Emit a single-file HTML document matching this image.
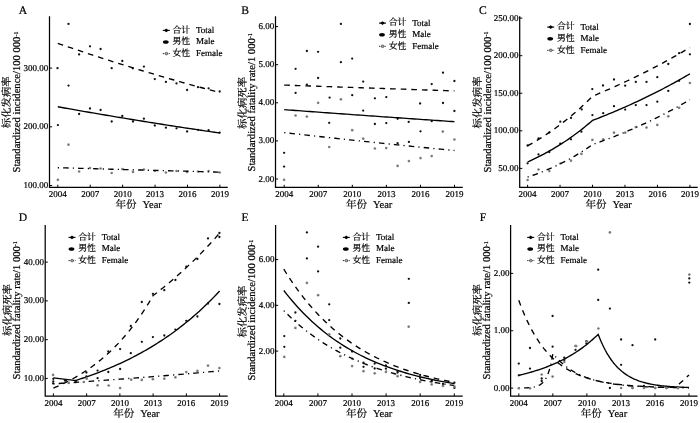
<!DOCTYPE html>
<html><head><meta charset="utf-8"><style>
html,body{margin:0;padding:0;background:#fff;}
svg{display:block;will-change:transform;}
text{text-rendering:geometricPrecision;stroke:#000;stroke-width:0.2px;}
</style></head><body>
<svg width="700" height="423" viewBox="0 0 700 423" font-family='"Liberation Serif", "Noto Serif CJK SC", serif'>
<rect width="700" height="423" fill="#fff"/>
<path d="M49.5,16.3 L49.5,187.3 L227.8,187.3" fill="none" stroke="#000" stroke-width="1.25"/>
<line x1="57.80" y1="187.3" x2="57.80" y2="184.70" stroke="#000" stroke-width="1"/>
<text x="57.80" y="197.30" font-size="9" text-anchor="middle">2004</text>
<line x1="90.22" y1="187.3" x2="90.22" y2="184.70" stroke="#000" stroke-width="1"/>
<text x="90.22" y="197.30" font-size="9" text-anchor="middle">2007</text>
<line x1="122.64" y1="187.3" x2="122.64" y2="184.70" stroke="#000" stroke-width="1"/>
<text x="122.64" y="197.30" font-size="9" text-anchor="middle">2010</text>
<line x1="155.06" y1="187.3" x2="155.06" y2="184.70" stroke="#000" stroke-width="1"/>
<text x="155.06" y="197.30" font-size="9" text-anchor="middle">2013</text>
<line x1="187.48" y1="187.3" x2="187.48" y2="184.70" stroke="#000" stroke-width="1"/>
<text x="187.48" y="197.30" font-size="9" text-anchor="middle">2016</text>
<line x1="219.90" y1="187.3" x2="219.90" y2="184.70" stroke="#000" stroke-width="1"/>
<text x="219.90" y="197.30" font-size="9" text-anchor="middle">2019</text>
<line x1="49.5" y1="68.10" x2="52.10" y2="68.10" stroke="#000" stroke-width="1"/>
<text x="48.30" y="70.60" font-size="9" text-anchor="end">300.00</text>
<line x1="49.5" y1="126.80" x2="52.10" y2="126.80" stroke="#000" stroke-width="1"/>
<text x="48.30" y="129.30" font-size="9" text-anchor="end">200.00</text>
<line x1="49.5" y1="185.50" x2="52.10" y2="185.50" stroke="#000" stroke-width="1"/>
<text x="48.30" y="188.00" font-size="9" text-anchor="end">100.00</text>
<text x="18.8" y="13.8" font-size="11.6">A</text>
<text x="138.65" y="207.90" font-size="10.5" text-anchor="middle">年份<tspan dx="6">Year</tspan></text>
<text transform="translate(20.40,172.50) rotate(-90)" font-size="10.6">Standardized incidence/100 000<tspan font-size="6" dy="-2.9">-1</tspan></text>
<text transform="translate(10.10,128.20) rotate(-90)" font-size="10.4">标化发病率</text>
<line x1="162.80" y1="30.40" x2="169.80" y2="30.40" stroke="#000" stroke-width="1.1"/>
<path d="M163.90,30.40 L166.30,28.50 L168.70,30.40 L166.30,32.30 Z" fill="#000"/>
<text x="172.50" y="32.70" font-size="8.9">合计</text>
<text x="196.00" y="32.80" font-size="9">Total</text>
<ellipse cx="165.80" cy="42.00" rx="2.9" ry="1.8" fill="#000"/>
<text x="172.50" y="44.30" font-size="8.9">男性</text>
<text x="196.00" y="44.40" font-size="9">Male</text>
<line x1="162.80" y1="53.60" x2="169.80" y2="53.60" stroke="#222" stroke-width="1" stroke-dasharray="1.3 0.8"/>
<circle cx="166.40" cy="53.60" r="1.35" fill="#aaa" stroke="#333" stroke-width="0.6"/>
<text x="172.50" y="55.90" font-size="8.9">女性</text>
<text x="196.00" y="56.00" font-size="9">Female</text>
<path d="M275.5,16.3 L275.5,187.4 L462.8,187.4" fill="none" stroke="#000" stroke-width="1.25"/>
<line x1="284.20" y1="187.4" x2="284.20" y2="184.80" stroke="#000" stroke-width="1"/>
<text x="284.20" y="197.40" font-size="9" text-anchor="middle">2004</text>
<line x1="318.26" y1="187.4" x2="318.26" y2="184.80" stroke="#000" stroke-width="1"/>
<text x="318.26" y="197.40" font-size="9" text-anchor="middle">2007</text>
<line x1="352.32" y1="187.4" x2="352.32" y2="184.80" stroke="#000" stroke-width="1"/>
<text x="352.32" y="197.40" font-size="9" text-anchor="middle">2010</text>
<line x1="386.38" y1="187.4" x2="386.38" y2="184.80" stroke="#000" stroke-width="1"/>
<text x="386.38" y="197.40" font-size="9" text-anchor="middle">2013</text>
<line x1="420.44" y1="187.4" x2="420.44" y2="184.80" stroke="#000" stroke-width="1"/>
<text x="420.44" y="197.40" font-size="9" text-anchor="middle">2016</text>
<line x1="454.50" y1="187.4" x2="454.50" y2="184.80" stroke="#000" stroke-width="1"/>
<text x="454.50" y="197.40" font-size="9" text-anchor="middle">2019</text>
<line x1="275.5" y1="26.60" x2="278.10" y2="26.60" stroke="#000" stroke-width="1"/>
<text x="274.30" y="29.10" font-size="9" text-anchor="end">6.00</text>
<line x1="275.5" y1="64.70" x2="278.10" y2="64.70" stroke="#000" stroke-width="1"/>
<text x="274.30" y="67.20" font-size="9" text-anchor="end">5.00</text>
<line x1="275.5" y1="102.80" x2="278.10" y2="102.80" stroke="#000" stroke-width="1"/>
<text x="274.30" y="105.30" font-size="9" text-anchor="end">4.00</text>
<line x1="275.5" y1="140.90" x2="278.10" y2="140.90" stroke="#000" stroke-width="1"/>
<text x="274.30" y="143.40" font-size="9" text-anchor="end">3.00</text>
<line x1="275.5" y1="179.00" x2="278.10" y2="179.00" stroke="#000" stroke-width="1"/>
<text x="274.30" y="181.50" font-size="9" text-anchor="end">2.00</text>
<text x="241.2" y="13.9" font-size="11.6">B</text>
<text x="369.15" y="208.00" font-size="10.5" text-anchor="middle">年份<tspan dx="6">Year</tspan></text>
<text transform="translate(255.00,171.50) rotate(-90)" font-size="10.6">Standardized fatality rate/1 000<tspan font-size="6" dy="-2.9">-1</tspan></text>
<text transform="translate(245.70,128.90) rotate(-90)" font-size="10.4">标化病死率</text>
<line x1="379.00" y1="23.10" x2="386.00" y2="23.10" stroke="#000" stroke-width="1.1"/>
<path d="M380.10,23.10 L382.50,21.20 L384.90,23.10 L382.50,25.00 Z" fill="#000"/>
<text x="388.70" y="25.40" font-size="8.9">合计</text>
<text x="412.20" y="25.50" font-size="9">Total</text>
<ellipse cx="382.00" cy="34.70" rx="2.9" ry="1.8" fill="#000"/>
<text x="388.70" y="37.00" font-size="8.9">男性</text>
<text x="412.20" y="37.10" font-size="9">Male</text>
<line x1="379.00" y1="46.30" x2="386.00" y2="46.30" stroke="#222" stroke-width="1" stroke-dasharray="1.3 0.8"/>
<circle cx="382.60" cy="46.30" r="1.35" fill="#aaa" stroke="#333" stroke-width="0.6"/>
<text x="388.70" y="48.60" font-size="8.9">女性</text>
<text x="412.20" y="48.70" font-size="9">Female</text>
<path d="M519.7,16.3 L519.7,187.4 L697.7,187.4" fill="none" stroke="#000" stroke-width="1.25"/>
<line x1="527.60" y1="187.4" x2="527.60" y2="184.80" stroke="#000" stroke-width="1"/>
<text x="527.60" y="197.40" font-size="9" text-anchor="middle">2004</text>
<line x1="560.06" y1="187.4" x2="560.06" y2="184.80" stroke="#000" stroke-width="1"/>
<text x="560.06" y="197.40" font-size="9" text-anchor="middle">2007</text>
<line x1="592.52" y1="187.4" x2="592.52" y2="184.80" stroke="#000" stroke-width="1"/>
<text x="592.52" y="197.40" font-size="9" text-anchor="middle">2010</text>
<line x1="624.98" y1="187.4" x2="624.98" y2="184.80" stroke="#000" stroke-width="1"/>
<text x="624.98" y="197.40" font-size="9" text-anchor="middle">2013</text>
<line x1="657.44" y1="187.4" x2="657.44" y2="184.80" stroke="#000" stroke-width="1"/>
<text x="657.44" y="197.40" font-size="9" text-anchor="middle">2016</text>
<line x1="689.90" y1="187.4" x2="689.90" y2="184.80" stroke="#000" stroke-width="1"/>
<text x="689.90" y="197.40" font-size="9" text-anchor="middle">2019</text>
<line x1="519.7" y1="18.10" x2="522.30" y2="18.10" stroke="#000" stroke-width="1"/>
<text x="518.50" y="20.60" font-size="9" text-anchor="end">250.00</text>
<line x1="519.7" y1="55.68" x2="522.30" y2="55.68" stroke="#000" stroke-width="1"/>
<text x="518.50" y="58.18" font-size="9" text-anchor="end">200.00</text>
<line x1="519.7" y1="93.25" x2="522.30" y2="93.25" stroke="#000" stroke-width="1"/>
<text x="518.50" y="95.75" font-size="9" text-anchor="end">150.00</text>
<line x1="519.7" y1="130.82" x2="522.30" y2="130.82" stroke="#000" stroke-width="1"/>
<text x="518.50" y="133.32" font-size="9" text-anchor="end">100.00</text>
<line x1="519.7" y1="168.40" x2="522.30" y2="168.40" stroke="#000" stroke-width="1"/>
<text x="518.50" y="170.90" font-size="9" text-anchor="end">50.00</text>
<text x="479.0" y="13.9" font-size="11.6">C</text>
<text x="608.70" y="208.00" font-size="10.5" text-anchor="middle">年份<tspan dx="6">Year</tspan></text>
<text transform="translate(490.60,172.50) rotate(-90)" font-size="10.6">Standardized incidence/100 000<tspan font-size="6" dy="-2.9">-1</tspan></text>
<text transform="translate(480.80,128.40) rotate(-90)" font-size="10.4">标化发病率</text>
<line x1="547.20" y1="27.10" x2="554.20" y2="27.10" stroke="#000" stroke-width="1.1"/>
<path d="M548.30,27.10 L550.70,25.20 L553.10,27.10 L550.70,29.00 Z" fill="#000"/>
<text x="556.90" y="29.40" font-size="8.9">合计</text>
<text x="580.40" y="29.50" font-size="9">Total</text>
<ellipse cx="550.20" cy="38.70" rx="2.9" ry="1.8" fill="#000"/>
<text x="556.90" y="41.00" font-size="8.9">男性</text>
<text x="580.40" y="41.10" font-size="9">Male</text>
<line x1="547.20" y1="50.30" x2="554.20" y2="50.30" stroke="#222" stroke-width="1" stroke-dasharray="1.3 0.8"/>
<circle cx="550.80" cy="50.30" r="1.35" fill="#aaa" stroke="#333" stroke-width="0.6"/>
<text x="556.90" y="52.60" font-size="8.9">女性</text>
<text x="580.40" y="52.70" font-size="9">Female</text>
<path d="M45.2,224.9 L45.2,396.0 L227.7,396.0" fill="none" stroke="#000" stroke-width="1.25"/>
<line x1="53.40" y1="396.0" x2="53.40" y2="393.40" stroke="#000" stroke-width="1"/>
<text x="53.40" y="406.00" font-size="9" text-anchor="middle">2004</text>
<line x1="86.64" y1="396.0" x2="86.64" y2="393.40" stroke="#000" stroke-width="1"/>
<text x="86.64" y="406.00" font-size="9" text-anchor="middle">2007</text>
<line x1="119.88" y1="396.0" x2="119.88" y2="393.40" stroke="#000" stroke-width="1"/>
<text x="119.88" y="406.00" font-size="9" text-anchor="middle">2010</text>
<line x1="153.12" y1="396.0" x2="153.12" y2="393.40" stroke="#000" stroke-width="1"/>
<text x="153.12" y="406.00" font-size="9" text-anchor="middle">2013</text>
<line x1="186.36" y1="396.0" x2="186.36" y2="393.40" stroke="#000" stroke-width="1"/>
<text x="186.36" y="406.00" font-size="9" text-anchor="middle">2016</text>
<line x1="219.60" y1="396.0" x2="219.60" y2="393.40" stroke="#000" stroke-width="1"/>
<text x="219.60" y="406.00" font-size="9" text-anchor="middle">2019</text>
<line x1="45.2" y1="262.10" x2="47.80" y2="262.10" stroke="#000" stroke-width="1"/>
<text x="44.00" y="264.60" font-size="9" text-anchor="end">40.00</text>
<line x1="45.2" y1="300.87" x2="47.80" y2="300.87" stroke="#000" stroke-width="1"/>
<text x="44.00" y="303.37" font-size="9" text-anchor="end">30.00</text>
<line x1="45.2" y1="339.63" x2="47.80" y2="339.63" stroke="#000" stroke-width="1"/>
<text x="44.00" y="342.13" font-size="9" text-anchor="end">20.00</text>
<line x1="45.2" y1="378.40" x2="47.80" y2="378.40" stroke="#000" stroke-width="1"/>
<text x="44.00" y="380.90" font-size="9" text-anchor="end">10.00</text>
<text x="18.8" y="220.6" font-size="11.6">D</text>
<text x="136.45" y="416.60" font-size="10.5" text-anchor="middle">年份<tspan dx="6">Year</tspan></text>
<text transform="translate(20.00,379.40) rotate(-90)" font-size="10.6">Standardized fatality rate/1 000<tspan font-size="6" dy="-2.9">-1</tspan></text>
<text transform="translate(11.10,336.00) rotate(-90)" font-size="10.4">标化病死率</text>
<line x1="68.50" y1="237.40" x2="75.50" y2="237.40" stroke="#000" stroke-width="1.1"/>
<path d="M69.60,237.40 L72.00,235.50 L74.40,237.40 L72.00,239.30 Z" fill="#000"/>
<text x="78.20" y="239.70" font-size="8.9">合计</text>
<text x="101.70" y="239.80" font-size="9">Total</text>
<ellipse cx="71.50" cy="249.00" rx="2.9" ry="1.8" fill="#000"/>
<text x="78.20" y="251.30" font-size="8.9">男性</text>
<text x="101.70" y="251.40" font-size="9">Male</text>
<line x1="68.50" y1="260.60" x2="75.50" y2="260.60" stroke="#222" stroke-width="1" stroke-dasharray="1.3 0.8"/>
<circle cx="72.10" cy="260.60" r="1.35" fill="#aaa" stroke="#333" stroke-width="0.6"/>
<text x="78.20" y="262.90" font-size="8.9">女性</text>
<text x="101.70" y="263.00" font-size="9">Female</text>
<path d="M275.6,224.9 L275.6,396.0 L462.7,396.0" fill="none" stroke="#000" stroke-width="1.25"/>
<line x1="283.80" y1="396.0" x2="283.80" y2="393.40" stroke="#000" stroke-width="1"/>
<text x="283.80" y="406.00" font-size="9" text-anchor="middle">2004</text>
<line x1="317.90" y1="396.0" x2="317.90" y2="393.40" stroke="#000" stroke-width="1"/>
<text x="317.90" y="406.00" font-size="9" text-anchor="middle">2007</text>
<line x1="352.00" y1="396.0" x2="352.00" y2="393.40" stroke="#000" stroke-width="1"/>
<text x="352.00" y="406.00" font-size="9" text-anchor="middle">2010</text>
<line x1="386.10" y1="396.0" x2="386.10" y2="393.40" stroke="#000" stroke-width="1"/>
<text x="386.10" y="406.00" font-size="9" text-anchor="middle">2013</text>
<line x1="420.20" y1="396.0" x2="420.20" y2="393.40" stroke="#000" stroke-width="1"/>
<text x="420.20" y="406.00" font-size="9" text-anchor="middle">2016</text>
<line x1="454.30" y1="396.0" x2="454.30" y2="393.40" stroke="#000" stroke-width="1"/>
<text x="454.30" y="406.00" font-size="9" text-anchor="middle">2019</text>
<line x1="275.6" y1="259.60" x2="278.20" y2="259.60" stroke="#000" stroke-width="1"/>
<text x="274.40" y="262.10" font-size="9" text-anchor="end">6.00</text>
<line x1="275.6" y1="305.35" x2="278.20" y2="305.35" stroke="#000" stroke-width="1"/>
<text x="274.40" y="307.85" font-size="9" text-anchor="end">4.00</text>
<line x1="275.6" y1="351.10" x2="278.20" y2="351.10" stroke="#000" stroke-width="1"/>
<text x="274.40" y="353.60" font-size="9" text-anchor="end">2.00</text>
<text x="241.6" y="220.6" font-size="11.6">E</text>
<text x="369.15" y="416.60" font-size="10.5" text-anchor="middle">年份<tspan dx="6">Year</tspan></text>
<text transform="translate(255.40,380.60) rotate(-90)" font-size="10.6">Standardized incidence/100 000<tspan font-size="6" dy="-2.9">-1</tspan></text>
<text transform="translate(246.00,337.50) rotate(-90)" font-size="10.4">标化发病率</text>
<line x1="342.80" y1="237.40" x2="349.80" y2="237.40" stroke="#000" stroke-width="1.1"/>
<path d="M343.90,237.40 L346.30,235.50 L348.70,237.40 L346.30,239.30 Z" fill="#000"/>
<text x="352.50" y="239.70" font-size="8.9">合计</text>
<text x="376.00" y="239.80" font-size="9">Total</text>
<ellipse cx="345.80" cy="249.00" rx="2.9" ry="1.8" fill="#000"/>
<text x="352.50" y="251.30" font-size="8.9">男性</text>
<text x="376.00" y="251.40" font-size="9">Male</text>
<line x1="342.80" y1="260.60" x2="349.80" y2="260.60" stroke="#222" stroke-width="1" stroke-dasharray="1.3 0.8"/>
<circle cx="346.40" cy="260.60" r="1.35" fill="#aaa" stroke="#333" stroke-width="0.6"/>
<text x="352.50" y="262.90" font-size="8.9">女性</text>
<text x="376.00" y="263.00" font-size="9">Female</text>
<path d="M510.6,224.9 L510.6,396.0 L697.5,396.0" fill="none" stroke="#000" stroke-width="1.25"/>
<line x1="518.80" y1="396.0" x2="518.80" y2="393.40" stroke="#000" stroke-width="1"/>
<text x="518.80" y="406.00" font-size="9" text-anchor="middle">2004</text>
<line x1="552.84" y1="396.0" x2="552.84" y2="393.40" stroke="#000" stroke-width="1"/>
<text x="552.84" y="406.00" font-size="9" text-anchor="middle">2007</text>
<line x1="586.88" y1="396.0" x2="586.88" y2="393.40" stroke="#000" stroke-width="1"/>
<text x="586.88" y="406.00" font-size="9" text-anchor="middle">2010</text>
<line x1="620.92" y1="396.0" x2="620.92" y2="393.40" stroke="#000" stroke-width="1"/>
<text x="620.92" y="406.00" font-size="9" text-anchor="middle">2013</text>
<line x1="654.96" y1="396.0" x2="654.96" y2="393.40" stroke="#000" stroke-width="1"/>
<text x="654.96" y="406.00" font-size="9" text-anchor="middle">2016</text>
<line x1="689.00" y1="396.0" x2="689.00" y2="393.40" stroke="#000" stroke-width="1"/>
<text x="689.00" y="406.00" font-size="9" text-anchor="middle">2019</text>
<line x1="510.6" y1="273.40" x2="513.20" y2="273.40" stroke="#000" stroke-width="1"/>
<text x="509.40" y="275.90" font-size="9" text-anchor="end">2.00</text>
<line x1="510.6" y1="330.75" x2="513.20" y2="330.75" stroke="#000" stroke-width="1"/>
<text x="509.40" y="333.25" font-size="9" text-anchor="end">1.00</text>
<line x1="510.6" y1="388.10" x2="513.20" y2="388.10" stroke="#000" stroke-width="1"/>
<text x="509.40" y="390.60" font-size="9" text-anchor="end">0.00</text>
<text x="479.8" y="220.6" font-size="11.6">F</text>
<text x="604.05" y="416.60" font-size="10.5" text-anchor="middle">年份<tspan dx="6">Year</tspan></text>
<text transform="translate(490.40,379.40) rotate(-90)" font-size="10.6">Standardized fatality rate/1 000<tspan font-size="6" dy="-2.9">-1</tspan></text>
<text transform="translate(480.60,336.00) rotate(-90)" font-size="10.4">标化病死率</text>
<line x1="527.20" y1="237.40" x2="534.20" y2="237.40" stroke="#000" stroke-width="1.1"/>
<path d="M528.30,237.40 L530.70,235.50 L533.10,237.40 L530.70,239.30 Z" fill="#000"/>
<text x="536.90" y="239.70" font-size="8.9">合计</text>
<text x="560.40" y="239.80" font-size="9">Total</text>
<ellipse cx="530.20" cy="249.00" rx="2.9" ry="1.8" fill="#000"/>
<text x="536.90" y="251.30" font-size="8.9">男性</text>
<text x="560.40" y="251.40" font-size="9">Male</text>
<line x1="527.20" y1="260.60" x2="534.20" y2="260.60" stroke="#222" stroke-width="1" stroke-dasharray="1.3 0.8"/>
<circle cx="530.80" cy="260.60" r="1.35" fill="#aaa" stroke="#333" stroke-width="0.6"/>
<text x="536.90" y="262.90" font-size="8.9">女性</text>
<text x="560.40" y="263.00" font-size="9">Female</text>
<circle cx="57.5" cy="68.2" r="1.15" fill="#111"/>
<circle cx="68.5" cy="23.9" r="1.15" fill="#111"/>
<circle cx="79.1" cy="54.4" r="1.15" fill="#111"/>
<circle cx="90.0" cy="46.3" r="1.15" fill="#111"/>
<circle cx="100.6" cy="49.0" r="1.15" fill="#111"/>
<circle cx="111.7" cy="68.2" r="1.15" fill="#111"/>
<circle cx="122.3" cy="61.0" r="1.15" fill="#111"/>
<circle cx="132.8" cy="68.3" r="1.15" fill="#111"/>
<circle cx="143.9" cy="66.6" r="1.15" fill="#111"/>
<circle cx="154.8" cy="79.1" r="1.15" fill="#111"/>
<circle cx="165.9" cy="81.9" r="1.15" fill="#111"/>
<circle cx="176.5" cy="83.4" r="1.15" fill="#111"/>
<circle cx="187.1" cy="90.0" r="1.15" fill="#111"/>
<circle cx="198.0" cy="87.2" r="1.15" fill="#111"/>
<circle cx="208.6" cy="88.3" r="1.15" fill="#111"/>
<circle cx="219.7" cy="91.5" r="1.15" fill="#111"/>
<circle cx="57.9" cy="125.1" r="1.15" fill="#111"/>
<circle cx="68.5" cy="85.6" r="1.15" fill="#111"/>
<circle cx="79.1" cy="114.0" r="1.15" fill="#111"/>
<circle cx="90.0" cy="108.5" r="1.15" fill="#111"/>
<circle cx="100.6" cy="110.0" r="1.15" fill="#111"/>
<circle cx="111.7" cy="121.5" r="1.15" fill="#111"/>
<circle cx="122.3" cy="116.0" r="1.15" fill="#111"/>
<circle cx="133.0" cy="121.5" r="1.15" fill="#111"/>
<circle cx="143.9" cy="118.7" r="1.15" fill="#111"/>
<circle cx="154.8" cy="125.5" r="1.15" fill="#111"/>
<circle cx="165.9" cy="127.7" r="1.15" fill="#111"/>
<circle cx="176.5" cy="128.3" r="1.15" fill="#111"/>
<circle cx="187.1" cy="131.5" r="1.15" fill="#111"/>
<circle cx="198.0" cy="129.8" r="1.15" fill="#111"/>
<circle cx="208.6" cy="130.2" r="1.15" fill="#111"/>
<circle cx="219.7" cy="132.6" r="1.15" fill="#111"/>
<circle cx="57.9" cy="179.8" r="1.35" fill="#8a8a8a"/><circle cx="57.9" cy="179.8" r="0.5" fill="#555"/>
<circle cx="68.5" cy="144.7" r="1.35" fill="#8a8a8a"/><circle cx="68.5" cy="144.7" r="0.5" fill="#555"/>
<circle cx="79.1" cy="171.5" r="1.35" fill="#8a8a8a"/><circle cx="79.1" cy="171.5" r="0.5" fill="#555"/>
<circle cx="90.0" cy="168.0" r="1.35" fill="#8a8a8a"/><circle cx="90.0" cy="168.0" r="0.5" fill="#555"/>
<circle cx="100.6" cy="168.5" r="1.35" fill="#8a8a8a"/><circle cx="100.6" cy="168.5" r="0.5" fill="#555"/>
<circle cx="111.7" cy="173.0" r="1.35" fill="#8a8a8a"/><circle cx="111.7" cy="173.0" r="0.5" fill="#555"/>
<circle cx="122.3" cy="169.1" r="1.35" fill="#8a8a8a"/><circle cx="122.3" cy="169.1" r="0.5" fill="#555"/>
<circle cx="133.0" cy="171.9" r="1.35" fill="#8a8a8a"/><circle cx="133.0" cy="171.9" r="0.5" fill="#555"/>
<circle cx="143.9" cy="169.5" r="1.35" fill="#8a8a8a"/><circle cx="143.9" cy="169.5" r="0.5" fill="#555"/>
<circle cx="154.8" cy="171.0" r="1.35" fill="#8a8a8a"/><circle cx="154.8" cy="171.0" r="0.5" fill="#555"/>
<circle cx="165.9" cy="172.5" r="1.35" fill="#8a8a8a"/><circle cx="165.9" cy="172.5" r="0.5" fill="#555"/>
<circle cx="176.5" cy="171.0" r="1.35" fill="#8a8a8a"/><circle cx="176.5" cy="171.0" r="0.5" fill="#555"/>
<circle cx="187.1" cy="172.0" r="1.35" fill="#8a8a8a"/><circle cx="187.1" cy="172.0" r="0.5" fill="#555"/>
<circle cx="198.0" cy="171.5" r="1.35" fill="#8a8a8a"/><circle cx="198.0" cy="171.5" r="0.5" fill="#555"/>
<circle cx="208.6" cy="171.0" r="1.35" fill="#8a8a8a"/><circle cx="208.6" cy="171.0" r="0.5" fill="#555"/>
<circle cx="219.7" cy="172.5" r="1.35" fill="#8a8a8a"/><circle cx="219.7" cy="172.5" r="0.5" fill="#555"/>
<path d="M57.80,43.33 L60.50,44.27 L63.20,45.20 L65.91,46.13 L68.61,47.06 L71.31,47.98 L74.01,48.90 L76.71,49.81 L79.41,50.72 L82.12,51.63 L84.82,52.53 L87.52,53.42 L90.22,54.32 L92.92,55.20 L95.62,56.09 L98.33,56.97 L101.03,57.84 L103.73,58.71 L106.43,59.58 L109.13,60.45 L111.84,61.30 L114.54,62.16 L117.24,63.01 L119.94,63.86 L122.64,64.70 L125.34,65.54 L128.05,66.38 L130.75,67.21 L133.45,68.04 L136.15,68.86 L138.85,69.68 L141.55,70.50 L144.26,71.31 L146.96,72.12 L149.66,72.92 L152.36,73.72 L155.06,74.52 L157.76,75.31 L160.47,76.10 L163.17,76.89 L165.87,77.67 L168.57,78.45 L171.27,79.23 L173.98,80.00 L176.68,80.77 L179.38,81.53 L182.08,82.29 L184.78,83.05 L187.48,83.80 L190.19,84.55 L192.89,85.30 L195.59,86.04 L198.29,86.78 L200.99,87.52 L203.69,88.25 L206.40,88.98 L209.10,89.70 L211.80,90.43 L214.50,91.15 L217.20,91.86 L219.91,92.57" fill="none" stroke="#000" stroke-width="1.35" stroke-dasharray="5.6 5.0"/>
<path d="M57.80,106.78 L60.50,107.27 L63.20,107.75 L65.91,108.23 L68.61,108.71 L71.31,109.19 L74.01,109.67 L76.71,110.14 L79.41,110.61 L82.12,111.08 L84.82,111.55 L87.52,112.02 L90.22,112.49 L92.92,112.95 L95.62,113.41 L98.33,113.88 L101.03,114.33 L103.73,114.79 L106.43,115.25 L109.13,115.70 L111.84,116.16 L114.54,116.61 L117.24,117.06 L119.94,117.51 L122.64,117.95 L125.34,118.40 L128.05,118.84 L130.75,119.28 L133.45,119.72 L136.15,120.16 L138.85,120.60 L141.55,121.04 L144.26,121.47 L146.96,121.90 L149.66,122.34 L152.36,122.76 L155.06,123.19 L157.76,123.62 L160.47,124.04 L163.17,124.47 L165.87,124.89 L168.57,125.31 L171.27,125.73 L173.98,126.15 L176.68,126.56 L179.38,126.98 L182.08,127.39 L184.78,127.80 L187.48,128.22 L190.19,128.62 L192.89,129.03 L195.59,129.44 L198.29,129.84 L200.99,130.25 L203.69,130.65 L206.40,131.05 L209.10,131.45 L211.80,131.84 L214.50,132.24 L217.20,132.64 L219.91,133.03" fill="none" stroke="#000" stroke-width="1.35"/>
<path d="M57.80,167.71 L60.50,167.79 L63.20,167.87 L65.91,167.94 L68.61,168.02 L71.31,168.09 L74.01,168.17 L76.71,168.24 L79.41,168.32 L82.12,168.39 L84.82,168.47 L87.52,168.54 L90.22,168.62 L92.92,168.69 L95.62,168.77 L98.33,168.84 L101.03,168.92 L103.73,168.99 L106.43,169.07 L109.13,169.14 L111.84,169.22 L114.54,169.29 L117.24,169.37 L119.94,169.44 L122.64,169.51 L125.34,169.59 L128.05,169.66 L130.75,169.74 L133.45,169.81 L136.15,169.88 L138.85,169.96 L141.55,170.03 L144.26,170.10 L146.96,170.18 L149.66,170.25 L152.36,170.33 L155.06,170.40 L157.76,170.47 L160.47,170.54 L163.17,170.62 L165.87,170.69 L168.57,170.76 L171.27,170.84 L173.98,170.91 L176.68,170.98 L179.38,171.05 L182.08,171.13 L184.78,171.20 L187.48,171.27 L190.19,171.34 L192.89,171.42 L195.59,171.49 L198.29,171.56 L200.99,171.63 L203.69,171.71 L206.40,171.78 L209.10,171.85 L211.80,171.92 L214.50,171.99 L217.20,172.06 L219.91,172.14" fill="none" stroke="#000" stroke-width="1.35" stroke-dasharray="5.5 4.2 1.2 4.1" stroke-dashoffset="9.7"/>
<circle cx="284.1" cy="152.8" r="1.15" fill="#111"/>
<circle cx="295.6" cy="68.8" r="1.15" fill="#111"/>
<circle cx="306.9" cy="51.0" r="1.15" fill="#111"/>
<circle cx="318.1" cy="51.8" r="1.15" fill="#111"/>
<circle cx="329.6" cy="97.6" r="1.15" fill="#111"/>
<circle cx="340.9" cy="23.9" r="1.15" fill="#111"/>
<circle cx="352.2" cy="58.6" r="1.15" fill="#111"/>
<circle cx="363.2" cy="81.6" r="1.15" fill="#111"/>
<circle cx="374.9" cy="98.3" r="1.15" fill="#111"/>
<circle cx="386.3" cy="97.1" r="1.15" fill="#111"/>
<circle cx="397.6" cy="118.8" r="1.15" fill="#111"/>
<circle cx="408.7" cy="121.9" r="1.15" fill="#111"/>
<circle cx="420.1" cy="103.5" r="1.15" fill="#111"/>
<circle cx="431.7" cy="84.1" r="1.15" fill="#111"/>
<circle cx="443.0" cy="72.7" r="1.15" fill="#111"/>
<circle cx="454.4" cy="81.0" r="1.15" fill="#111"/>
<circle cx="284.1" cy="166.6" r="1.15" fill="#111"/>
<circle cx="295.6" cy="92.9" r="1.15" fill="#111"/>
<circle cx="306.9" cy="84.6" r="1.15" fill="#111"/>
<circle cx="318.1" cy="78.0" r="1.15" fill="#111"/>
<circle cx="329.2" cy="122.8" r="1.15" fill="#111"/>
<circle cx="340.9" cy="62.2" r="1.15" fill="#111"/>
<circle cx="352.2" cy="95.2" r="1.15" fill="#111"/>
<circle cx="363.2" cy="110.6" r="1.15" fill="#111"/>
<circle cx="374.9" cy="124.0" r="1.15" fill="#111"/>
<circle cx="386.3" cy="123.1" r="1.15" fill="#111"/>
<circle cx="397.6" cy="143.2" r="1.15" fill="#111"/>
<circle cx="408.9" cy="141.9" r="1.15" fill="#111"/>
<circle cx="420.5" cy="131.3" r="1.15" fill="#111"/>
<circle cx="431.7" cy="121.2" r="1.15" fill="#111"/>
<circle cx="443.0" cy="103.0" r="1.15" fill="#111"/>
<circle cx="454.4" cy="111.0" r="1.15" fill="#111"/>
<circle cx="284.1" cy="179.8" r="1.35" fill="#8a8a8a"/><circle cx="284.1" cy="179.8" r="0.5" fill="#555"/>
<circle cx="295.6" cy="115.5" r="1.35" fill="#8a8a8a"/><circle cx="295.6" cy="115.5" r="0.5" fill="#555"/>
<circle cx="306.9" cy="116.6" r="1.35" fill="#8a8a8a"/><circle cx="306.9" cy="116.6" r="0.5" fill="#555"/>
<circle cx="318.1" cy="102.8" r="1.35" fill="#8a8a8a"/><circle cx="318.1" cy="102.8" r="0.5" fill="#555"/>
<circle cx="329.2" cy="147.0" r="1.35" fill="#8a8a8a"/><circle cx="329.2" cy="147.0" r="0.5" fill="#555"/>
<circle cx="340.9" cy="99.3" r="1.35" fill="#8a8a8a"/><circle cx="340.9" cy="99.3" r="0.5" fill="#555"/>
<circle cx="352.2" cy="130.2" r="1.35" fill="#8a8a8a"/><circle cx="352.2" cy="130.2" r="0.5" fill="#555"/>
<circle cx="363.2" cy="138.7" r="1.35" fill="#8a8a8a"/><circle cx="363.2" cy="138.7" r="0.5" fill="#555"/>
<circle cx="374.9" cy="148.5" r="1.35" fill="#8a8a8a"/><circle cx="374.9" cy="148.5" r="0.5" fill="#555"/>
<circle cx="386.2" cy="148.1" r="1.35" fill="#8a8a8a"/><circle cx="386.2" cy="148.1" r="0.5" fill="#555"/>
<circle cx="397.6" cy="165.9" r="1.35" fill="#8a8a8a"/><circle cx="397.6" cy="165.9" r="0.5" fill="#555"/>
<circle cx="408.9" cy="161.1" r="1.35" fill="#8a8a8a"/><circle cx="408.9" cy="161.1" r="0.5" fill="#555"/>
<circle cx="420.5" cy="158.1" r="1.35" fill="#8a8a8a"/><circle cx="420.5" cy="158.1" r="0.5" fill="#555"/>
<circle cx="431.7" cy="156.1" r="1.35" fill="#8a8a8a"/><circle cx="431.7" cy="156.1" r="0.5" fill="#555"/>
<circle cx="442.8" cy="131.6" r="1.35" fill="#8a8a8a"/><circle cx="442.8" cy="131.6" r="0.5" fill="#555"/>
<circle cx="454.4" cy="139.5" r="1.35" fill="#8a8a8a"/><circle cx="454.4" cy="139.5" r="0.5" fill="#555"/>
<path d="M284.20,85.08 L287.04,85.18 L289.88,85.28 L292.71,85.38 L295.55,85.48 L298.39,85.58 L301.23,85.68 L304.07,85.78 L306.91,85.87 L309.74,85.97 L312.58,86.07 L315.42,86.17 L318.26,86.27 L321.10,86.37 L323.94,86.47 L326.77,86.56 L329.61,86.66 L332.45,86.76 L335.29,86.86 L338.13,86.96 L340.96,87.05 L343.80,87.15 L346.64,87.25 L349.48,87.35 L352.32,87.45 L355.16,87.54 L357.99,87.64 L360.83,87.74 L363.67,87.84 L366.51,87.93 L369.35,88.03 L372.19,88.13 L375.02,88.23 L377.86,88.32 L380.70,88.42 L383.54,88.52 L386.38,88.61 L389.22,88.71 L392.05,88.81 L394.89,88.90 L397.73,89.00 L400.57,89.10 L403.41,89.19 L406.24,89.29 L409.08,89.39 L411.92,89.48 L414.76,89.58 L417.60,89.68 L420.44,89.77 L423.27,89.87 L426.11,89.97 L428.95,90.06 L431.79,90.16 L434.63,90.26 L437.47,90.35 L440.30,90.45 L443.14,90.54 L445.98,90.64 L448.82,90.73 L451.66,90.83 L454.50,90.93" fill="none" stroke="#000" stroke-width="1.35" stroke-dasharray="5.6 5.0"/>
<path d="M284.20,109.66 L287.04,109.87 L289.88,110.08 L292.71,110.28 L295.55,110.49 L298.39,110.70 L301.23,110.91 L304.07,111.12 L306.91,111.32 L309.74,111.53 L312.58,111.74 L315.42,111.94 L318.26,112.15 L321.10,112.35 L323.94,112.56 L326.77,112.76 L329.61,112.97 L332.45,113.17 L335.29,113.38 L338.13,113.58 L340.96,113.78 L343.80,113.99 L346.64,114.19 L349.48,114.39 L352.32,114.59 L355.16,114.80 L357.99,115.00 L360.83,115.20 L363.67,115.40 L366.51,115.60 L369.35,115.80 L372.19,116.00 L375.02,116.20 L377.86,116.40 L380.70,116.60 L383.54,116.80 L386.38,117.00 L389.22,117.20 L392.05,117.39 L394.89,117.59 L397.73,117.79 L400.57,117.99 L403.41,118.19 L406.24,118.38 L409.08,118.58 L411.92,118.77 L414.76,118.97 L417.60,119.17 L420.44,119.36 L423.27,119.56 L426.11,119.75 L428.95,119.95 L431.79,120.14 L434.63,120.33 L437.47,120.53 L440.30,120.72 L443.14,120.91 L445.98,121.11 L448.82,121.30 L451.66,121.49 L454.50,121.68" fill="none" stroke="#000" stroke-width="1.35"/>
<path d="M284.20,132.59 L287.04,132.92 L289.88,133.24 L292.71,133.56 L295.55,133.88 L298.39,134.20 L301.23,134.52 L304.07,134.84 L306.91,135.15 L309.74,135.47 L312.58,135.79 L315.42,136.10 L318.26,136.41 L321.10,136.73 L323.94,137.04 L326.77,137.35 L329.61,137.66 L332.45,137.97 L335.29,138.28 L338.13,138.59 L340.96,138.89 L343.80,139.20 L346.64,139.51 L349.48,139.81 L352.32,140.11 L355.16,140.42 L357.99,140.72 L360.83,141.02 L363.67,141.32 L366.51,141.62 L369.35,141.92 L372.19,142.22 L375.02,142.52 L377.86,142.81 L380.70,143.11 L383.54,143.41 L386.38,143.70 L389.22,143.99 L392.05,144.29 L394.89,144.58 L397.73,144.87 L400.57,145.16 L403.41,145.45 L406.24,145.74 L409.08,146.03 L411.92,146.32 L414.76,146.60 L417.60,146.89 L420.44,147.17 L423.27,147.46 L426.11,147.74 L428.95,148.03 L431.79,148.31 L434.63,148.59 L437.47,148.87 L440.30,149.15 L443.14,149.43 L445.98,149.71 L448.82,149.99 L451.66,150.26 L454.50,150.54" fill="none" stroke="#000" stroke-width="1.35" stroke-dasharray="5.5 4.2 1.2 4.1" stroke-dashoffset="9.7"/>
<circle cx="527.6" cy="145.5" r="1.15" fill="#111"/>
<circle cx="538.5" cy="138.5" r="1.15" fill="#111"/>
<circle cx="549.3" cy="132.5" r="1.15" fill="#111"/>
<circle cx="560.3" cy="121.7" r="1.15" fill="#111"/>
<circle cx="571.0" cy="117.9" r="1.15" fill="#111"/>
<circle cx="581.7" cy="109.4" r="1.15" fill="#111"/>
<circle cx="592.3" cy="89.1" r="1.15" fill="#111"/>
<circle cx="603.0" cy="85.5" r="1.15" fill="#111"/>
<circle cx="614.0" cy="79.5" r="1.15" fill="#111"/>
<circle cx="625.2" cy="85.7" r="1.15" fill="#111"/>
<circle cx="635.8" cy="81.9" r="1.15" fill="#111"/>
<circle cx="646.5" cy="81.9" r="1.15" fill="#111"/>
<circle cx="657.3" cy="77.2" r="1.15" fill="#111"/>
<circle cx="668.3" cy="64.0" r="1.15" fill="#111"/>
<circle cx="679.1" cy="53.2" r="1.15" fill="#111"/>
<circle cx="689.9" cy="24.0" r="1.15" fill="#111"/>
<circle cx="527.6" cy="163.3" r="1.15" fill="#111"/>
<circle cx="538.5" cy="154.4" r="1.15" fill="#111"/>
<circle cx="549.3" cy="152.0" r="1.15" fill="#111"/>
<circle cx="560.3" cy="143.6" r="1.15" fill="#111"/>
<circle cx="571.0" cy="139.3" r="1.15" fill="#111"/>
<circle cx="581.4" cy="131.7" r="1.15" fill="#111"/>
<circle cx="592.4" cy="115.1" r="1.15" fill="#111"/>
<circle cx="603.2" cy="113.2" r="1.15" fill="#111"/>
<circle cx="614.0" cy="106.2" r="1.15" fill="#111"/>
<circle cx="625.2" cy="109.6" r="1.15" fill="#111"/>
<circle cx="635.8" cy="105.1" r="1.15" fill="#111"/>
<circle cx="646.5" cy="105.1" r="1.15" fill="#111"/>
<circle cx="657.3" cy="101.7" r="1.15" fill="#111"/>
<circle cx="668.3" cy="90.9" r="1.15" fill="#111"/>
<circle cx="679.1" cy="80.8" r="1.15" fill="#111"/>
<circle cx="689.9" cy="54.3" r="1.15" fill="#111"/>
<circle cx="527.6" cy="180.0" r="1.35" fill="#8a8a8a"/><circle cx="527.6" cy="180.0" r="0.5" fill="#555"/>
<circle cx="538.5" cy="169.5" r="1.35" fill="#8a8a8a"/><circle cx="538.5" cy="169.5" r="0.5" fill="#555"/>
<circle cx="549.3" cy="171.1" r="1.35" fill="#8a8a8a"/><circle cx="549.3" cy="171.1" r="0.5" fill="#555"/>
<circle cx="560.3" cy="163.5" r="1.35" fill="#8a8a8a"/><circle cx="560.3" cy="163.5" r="0.5" fill="#555"/>
<circle cx="571.0" cy="160.7" r="1.35" fill="#8a8a8a"/><circle cx="571.0" cy="160.7" r="0.5" fill="#555"/>
<circle cx="581.4" cy="153.9" r="1.35" fill="#8a8a8a"/><circle cx="581.4" cy="153.9" r="0.5" fill="#555"/>
<circle cx="592.4" cy="139.9" r="1.35" fill="#8a8a8a"/><circle cx="592.4" cy="139.9" r="0.5" fill="#555"/>
<circle cx="603.2" cy="139.3" r="1.35" fill="#8a8a8a"/><circle cx="603.2" cy="139.3" r="0.5" fill="#555"/>
<circle cx="614.0" cy="132.7" r="1.35" fill="#8a8a8a"/><circle cx="614.0" cy="132.7" r="0.5" fill="#555"/>
<circle cx="625.2" cy="132.7" r="1.35" fill="#8a8a8a"/><circle cx="625.2" cy="132.7" r="0.5" fill="#555"/>
<circle cx="635.8" cy="127.1" r="1.35" fill="#8a8a8a"/><circle cx="635.8" cy="127.1" r="0.5" fill="#555"/>
<circle cx="646.5" cy="127.6" r="1.35" fill="#8a8a8a"/><circle cx="646.5" cy="127.6" r="0.5" fill="#555"/>
<circle cx="657.3" cy="124.9" r="1.35" fill="#8a8a8a"/><circle cx="657.3" cy="124.9" r="0.5" fill="#555"/>
<circle cx="668.3" cy="116.3" r="1.35" fill="#8a8a8a"/><circle cx="668.3" cy="116.3" r="0.5" fill="#555"/>
<circle cx="679.1" cy="107.8" r="1.35" fill="#8a8a8a"/><circle cx="679.1" cy="107.8" r="0.5" fill="#555"/>
<circle cx="689.9" cy="83.0" r="1.35" fill="#8a8a8a"/><circle cx="689.9" cy="83.0" r="0.5" fill="#555"/>
<path d="M527.60,145.86 L529.63,144.71 L531.66,143.55 L533.69,142.37 L535.72,141.16 L537.74,139.93 L539.77,138.67 L541.80,137.40 L543.83,136.09 L545.86,134.77 L547.89,133.42 L549.92,132.04 L551.95,130.63 L553.97,129.20 L556.00,127.75 L558.03,126.26 L560.06,124.75 L562.09,123.21 L564.12,121.64 L566.15,120.03 L568.18,118.40 L570.20,116.74 L572.23,115.05 L574.26,113.32 L576.29,111.56 L578.32,109.77 L580.35,107.94 L582.38,106.08 L584.40,104.18 L586.43,102.25 L588.46,100.28 L590.49,98.28 L592.52,96.23 L594.55,95.39 L596.58,94.54 L598.61,93.68 L600.63,92.82 L602.66,91.95 L604.69,91.08 L606.72,90.19 L608.75,89.31 L610.78,88.41 L612.81,87.51 L614.84,86.60 L616.87,85.68 L618.89,84.76 L620.92,83.83 L622.95,82.89 L624.98,81.94 L627.01,80.99 L629.04,80.03 L631.07,79.06 L633.10,78.09 L635.12,77.11 L637.15,76.12 L639.18,75.12 L641.21,74.11 L643.24,73.10 L645.27,72.08 L647.30,71.05 L649.33,70.02 L651.35,68.97 L653.38,67.92 L655.41,66.86 L657.44,65.79 L659.47,64.72 L661.50,63.63 L663.53,62.54 L665.56,61.44 L667.58,60.33 L669.61,59.21 L671.64,58.08 L673.67,56.95 L675.70,55.80 L677.73,54.65 L679.76,53.49 L681.79,52.31 L683.81,51.13 L685.84,49.95 L687.87,48.75 L689.90,47.54" fill="none" stroke="#000" stroke-width="1.35" stroke-dasharray="5.6 5.0"/>
<path d="M527.60,162.01 L529.63,161.09 L531.66,160.14 L533.69,159.18 L535.72,158.20 L537.74,157.19 L539.77,156.16 L541.80,155.12 L543.83,154.05 L545.86,152.96 L547.89,151.84 L549.92,150.70 L551.95,149.54 L553.97,148.35 L556.00,147.14 L558.03,145.90 L560.06,144.64 L562.09,143.35 L564.12,142.03 L566.15,140.69 L568.18,139.32 L570.20,137.91 L572.23,136.48 L574.26,135.02 L576.29,133.53 L578.32,132.01 L580.35,130.45 L582.38,128.86 L584.40,127.24 L586.43,125.58 L588.46,123.89 L590.49,122.17 L592.52,120.40 L594.55,119.63 L596.58,118.84 L598.61,118.05 L600.63,117.25 L602.66,116.44 L604.69,115.63 L606.72,114.80 L608.75,113.97 L610.78,113.14 L612.81,112.29 L614.84,111.44 L616.87,110.58 L618.89,109.71 L620.92,108.84 L622.95,107.95 L624.98,107.06 L627.01,106.16 L629.04,105.25 L631.07,104.34 L633.10,103.41 L635.12,102.48 L637.15,101.54 L639.18,100.59 L641.21,99.63 L643.24,98.66 L645.27,97.69 L647.30,96.70 L649.33,95.71 L651.35,94.70 L653.38,93.69 L655.41,92.67 L657.44,91.64 L659.47,90.60 L661.50,89.55 L663.53,88.49 L665.56,87.42 L667.58,86.34 L669.61,85.25 L671.64,84.16 L673.67,83.05 L675.70,81.93 L677.73,80.80 L679.76,79.66 L681.79,78.51 L683.81,77.35 L685.84,76.18 L687.87,75.00 L689.90,73.81" fill="none" stroke="#000" stroke-width="1.35"/>
<path d="M527.60,177.12 L529.63,176.43 L531.66,175.72 L533.69,175.00 L535.72,174.26 L537.74,173.50 L539.77,172.72 L541.80,171.93 L543.83,171.11 L545.86,170.28 L547.89,169.43 L549.92,168.55 L551.95,167.66 L553.97,166.74 L556.00,165.80 L558.03,164.84 L560.06,163.86 L562.09,162.85 L564.12,161.82 L566.15,160.77 L568.18,159.69 L570.20,158.58 L572.23,157.45 L574.26,156.29 L576.29,155.10 L578.32,153.88 L580.35,152.64 L582.38,151.36 L584.40,150.06 L586.43,148.72 L588.46,147.35 L590.49,145.95 L592.52,144.52 L594.55,143.81 L596.58,143.10 L598.61,142.37 L600.63,141.64 L602.66,140.90 L604.69,140.16 L606.72,139.40 L608.75,138.64 L610.78,137.86 L612.81,137.08 L614.84,136.29 L616.87,135.49 L618.89,134.68 L620.92,133.86 L622.95,133.03 L624.98,132.20 L627.01,131.35 L629.04,130.49 L631.07,129.62 L633.10,128.75 L635.12,127.86 L637.15,126.96 L639.18,126.06 L641.21,125.14 L643.24,124.21 L645.27,123.27 L647.30,122.32 L649.33,121.36 L651.35,120.39 L653.38,119.41 L655.41,118.41 L657.44,117.41 L659.47,116.39 L661.50,115.36 L663.53,114.32 L665.56,113.27 L667.58,112.20 L669.61,111.13 L671.64,110.04 L673.67,108.93 L675.70,107.82 L677.73,106.69 L679.76,105.55 L681.79,104.40 L683.81,103.23 L685.84,102.05 L687.87,100.86 L689.90,99.65" fill="none" stroke="#000" stroke-width="1.35" stroke-dasharray="5.5 4.2 1.2 4.1" stroke-dashoffset="9.7"/>
<path d="M53.40,388.09 L55.48,387.21 L57.55,386.31 L59.63,385.37 L61.71,384.41 L63.79,383.42 L65.86,382.40 L67.94,381.34 L70.02,380.26 L72.10,379.14 L74.17,377.99 L76.25,376.81 L78.33,375.59 L80.41,374.33 L82.48,373.03 L84.56,371.70 L86.64,370.32 L88.72,368.90 L90.80,367.44 L92.87,365.94 L94.95,364.39 L97.03,362.79 L99.10,361.14 L101.18,359.45 L103.26,357.70 L105.34,355.90 L107.41,354.05 L109.49,352.14 L111.57,350.17 L113.65,348.14 L115.72,346.05 L117.80,343.90 L119.88,341.68 L121.96,339.40 L124.03,337.04 L126.11,334.62 L128.19,332.12 L130.27,329.55 L132.34,326.90 L134.42,324.17 L136.50,321.35 L138.58,318.45 L140.66,315.46 L142.73,312.39 L144.81,309.21 L146.89,305.95 L148.97,302.58 L151.04,299.11 L153.12,295.54 L155.20,293.96 L157.28,292.35 L159.35,290.73 L161.43,289.08 L163.51,287.41 L165.59,285.72 L167.66,284.01 L169.74,282.28 L171.82,280.52 L173.90,278.74 L175.97,276.94 L178.05,275.11 L180.13,273.27 L182.21,271.39 L184.28,269.49 L186.36,267.57 L188.44,265.62 L190.52,263.65 L192.59,261.65 L194.67,259.62 L196.75,257.57 L198.83,255.49 L200.90,253.39 L202.98,251.26 L205.06,249.10 L207.14,246.91 L209.21,244.69 L211.29,242.44 L213.37,240.17 L215.44,237.86 L217.52,235.53 L219.60,233.16" fill="none" stroke="#000" stroke-width="1.35" stroke-dasharray="5.6 5.0"/>
<path d="M53.40,377.82 L55.48,378.08 L57.55,378.33 L59.63,378.59 L61.71,378.84 L63.79,379.10 L65.86,379.35 L67.94,379.60 L70.02,379.84 L72.10,380.09 L74.17,380.33 L75.56,380.49 L76.25,380.28 L78.33,379.61 L80.41,378.94 L82.48,378.25 L84.56,377.55 L86.64,376.84 L88.72,376.11 L90.80,375.38 L92.87,374.62 L94.95,373.86 L97.03,373.08 L99.10,372.29 L101.18,371.48 L103.26,370.66 L105.34,369.83 L107.41,368.97 L109.49,368.11 L111.57,367.23 L113.65,366.33 L115.72,365.42 L117.80,364.49 L119.88,363.54 L121.96,362.57 L124.03,361.59 L126.11,360.59 L128.19,359.58 L130.27,358.54 L132.34,357.49 L134.42,356.42 L136.50,355.32 L138.58,354.21 L140.66,353.08 L142.73,351.93 L144.81,350.76 L146.89,349.56 L148.97,348.35 L151.04,347.11 L153.12,345.85 L155.20,344.57 L157.28,343.27 L159.35,341.94 L161.43,340.59 L163.51,339.21 L165.59,337.81 L167.66,336.38 L169.74,334.93 L171.82,333.45 L173.90,331.95 L175.97,330.42 L178.05,328.86 L180.13,327.27 L182.21,325.65 L184.28,324.01 L186.36,322.34 L188.44,320.63 L190.52,318.90 L192.59,317.13 L194.67,315.33 L196.75,313.50 L198.83,311.64 L200.90,309.74 L202.98,307.81 L205.06,305.85 L207.14,303.84 L209.21,301.81 L211.29,299.73 L213.37,297.62 L215.44,295.48 L217.52,293.29 L219.60,291.06" fill="none" stroke="#000" stroke-width="1.35"/>
<path d="M53.40,383.83 L56.17,383.65 L58.94,383.46 L61.71,383.28 L64.48,383.09 L67.25,382.91 L70.02,382.72 L72.79,382.53 L75.56,382.34 L78.33,382.15 L81.10,381.96 L83.87,381.77 L86.64,381.57 L89.41,381.38 L92.18,381.18 L94.95,380.99 L97.72,380.79 L100.49,380.59 L103.26,380.39 L106.03,380.19 L108.80,379.99 L111.57,379.78 L114.34,379.58 L117.11,379.38 L119.88,379.17 L122.65,378.96 L125.42,378.75 L128.19,378.54 L130.96,378.33 L133.73,378.12 L136.50,377.91 L139.27,377.69 L142.04,377.48 L144.81,377.26 L147.58,377.04 L150.35,376.82 L153.12,376.60 L155.89,376.38 L158.66,376.16 L161.43,375.93 L164.20,375.71 L166.97,375.48 L169.74,375.25 L172.51,375.02 L175.28,374.79 L178.05,374.56 L180.82,374.33 L183.59,374.09 L186.36,373.86 L189.13,373.62 L191.90,373.38 L194.67,373.14 L197.44,372.90 L200.21,372.66 L202.98,372.42 L205.75,372.17 L208.52,371.93 L211.29,371.68 L214.06,371.43 L216.83,371.18 L219.60,370.93" fill="none" stroke="#000" stroke-width="1.35" stroke-dasharray="5.5 4.2 1.2 4.1" stroke-dashoffset="9.7"/>
<circle cx="53.3" cy="378.8" r="1.15" fill="#111"/>
<circle cx="64.9" cy="380.5" r="1.15" fill="#111"/>
<circle cx="75.6" cy="382.2" r="1.15" fill="#111"/>
<circle cx="86.4" cy="372.5" r="1.15" fill="#111"/>
<circle cx="97.6" cy="370.6" r="1.15" fill="#111"/>
<circle cx="108.3" cy="351.5" r="1.15" fill="#111"/>
<circle cx="120.1" cy="349.1" r="1.15" fill="#111"/>
<circle cx="130.8" cy="326.0" r="1.15" fill="#111"/>
<circle cx="141.8" cy="302.0" r="1.15" fill="#111"/>
<circle cx="152.9" cy="293.8" r="1.15" fill="#111"/>
<circle cx="164.3" cy="290.2" r="1.15" fill="#111"/>
<circle cx="175.4" cy="280.0" r="1.15" fill="#111"/>
<circle cx="186.3" cy="266.6" r="1.15" fill="#111"/>
<circle cx="197.4" cy="259.0" r="1.15" fill="#111"/>
<circle cx="208.0" cy="238.4" r="1.15" fill="#111"/>
<circle cx="219.4" cy="237.0" r="1.15" fill="#111"/>
<circle cx="53.3" cy="381.5" r="1.15" fill="#111"/>
<circle cx="65.9" cy="380.5" r="1.15" fill="#111"/>
<circle cx="75.8" cy="382.0" r="1.15" fill="#111"/>
<circle cx="86.4" cy="376.3" r="1.15" fill="#111"/>
<circle cx="97.6" cy="378.2" r="1.15" fill="#111"/>
<circle cx="108.3" cy="372.0" r="1.15" fill="#111"/>
<circle cx="120.1" cy="369.0" r="1.15" fill="#111"/>
<circle cx="130.8" cy="353.2" r="1.15" fill="#111"/>
<circle cx="141.8" cy="341.8" r="1.15" fill="#111"/>
<circle cx="152.9" cy="337.1" r="1.15" fill="#111"/>
<circle cx="164.3" cy="335.5" r="1.15" fill="#111"/>
<circle cx="175.4" cy="329.6" r="1.15" fill="#111"/>
<circle cx="186.3" cy="320.8" r="1.15" fill="#111"/>
<circle cx="197.4" cy="316.5" r="1.15" fill="#111"/>
<circle cx="208.0" cy="303.5" r="1.15" fill="#111"/>
<circle cx="219.4" cy="304.0" r="1.15" fill="#111"/>
<circle cx="53.1" cy="374.9" r="1.35" fill="#8a8a8a"/><circle cx="53.1" cy="374.9" r="0.5" fill="#555"/>
<circle cx="68.7" cy="382.9" r="1.35" fill="#8a8a8a"/><circle cx="68.7" cy="382.9" r="0.5" fill="#555"/>
<circle cx="83.8" cy="382.0" r="1.35" fill="#8a8a8a"/><circle cx="83.8" cy="382.0" r="0.5" fill="#555"/>
<circle cx="86.7" cy="378.7" r="1.35" fill="#8a8a8a"/><circle cx="86.7" cy="378.7" r="0.5" fill="#555"/>
<circle cx="97.6" cy="385.3" r="1.35" fill="#8a8a8a"/><circle cx="97.6" cy="385.3" r="0.5" fill="#555"/>
<circle cx="108.7" cy="385.5" r="1.35" fill="#8a8a8a"/><circle cx="108.7" cy="385.5" r="0.5" fill="#555"/>
<circle cx="120.1" cy="388.1" r="1.35" fill="#8a8a8a"/><circle cx="120.1" cy="388.1" r="0.5" fill="#555"/>
<circle cx="131.2" cy="379.7" r="1.35" fill="#8a8a8a"/><circle cx="131.2" cy="379.7" r="0.5" fill="#555"/>
<circle cx="141.8" cy="379.9" r="1.35" fill="#8a8a8a"/><circle cx="141.8" cy="379.9" r="0.5" fill="#555"/>
<circle cx="152.9" cy="379.2" r="1.35" fill="#8a8a8a"/><circle cx="152.9" cy="379.2" r="0.5" fill="#555"/>
<circle cx="164.3" cy="378.7" r="1.35" fill="#8a8a8a"/><circle cx="164.3" cy="378.7" r="0.5" fill="#555"/>
<circle cx="175.4" cy="377.3" r="1.35" fill="#8a8a8a"/><circle cx="175.4" cy="377.3" r="0.5" fill="#555"/>
<circle cx="186.3" cy="372.1" r="1.35" fill="#8a8a8a"/><circle cx="186.3" cy="372.1" r="0.5" fill="#555"/>
<circle cx="197.4" cy="370.9" r="1.35" fill="#8a8a8a"/><circle cx="197.4" cy="370.9" r="0.5" fill="#555"/>
<circle cx="208.0" cy="365.7" r="1.35" fill="#8a8a8a"/><circle cx="208.0" cy="365.7" r="0.5" fill="#555"/>
<circle cx="219.4" cy="368.1" r="1.35" fill="#8a8a8a"/><circle cx="219.4" cy="368.1" r="0.5" fill="#555"/>
<circle cx="53.1" cy="383.4" r="1.15" fill="#111"/>
<circle cx="219.4" cy="233.0" r="1.15" fill="#111"/>
<path d="M283.80,269.21 L286.64,273.75 L289.48,278.13 L292.33,282.36 L295.17,286.44 L298.01,290.37 L300.85,294.16 L303.69,297.81 L306.53,301.34 L309.38,304.74 L312.22,308.02 L315.06,311.18 L317.90,314.23 L320.74,317.17 L323.58,320.01 L326.43,322.74 L329.27,325.38 L332.11,327.93 L334.95,330.38 L337.79,332.75 L340.63,335.03 L343.48,337.23 L346.32,339.35 L349.16,341.40 L352.00,343.37 L354.84,345.28 L357.69,347.11 L360.53,348.88 L363.37,350.59 L366.21,352.24 L369.05,353.83 L371.89,355.36 L374.74,356.84 L377.58,358.26 L380.42,359.63 L383.26,360.96 L386.10,362.24 L388.94,363.47 L391.79,364.66 L394.63,365.80 L397.47,366.91 L400.31,367.97 L403.15,369.00 L406.00,369.99 L408.84,370.95 L411.68,371.87 L414.52,372.76 L417.36,373.62 L420.20,374.45 L423.05,375.24 L425.89,376.01 L428.73,376.75 L431.57,377.47 L434.41,378.16 L437.25,378.83 L440.10,379.47 L442.94,380.09 L445.78,380.68 L448.62,381.26 L451.46,381.81 L454.31,382.35" fill="none" stroke="#000" stroke-width="1.35" stroke-dasharray="5.6 5.0"/>
<path d="M283.80,290.48 L286.64,294.11 L289.48,297.62 L292.33,301.01 L295.17,304.28 L298.01,307.45 L300.85,310.50 L303.69,313.45 L306.53,316.30 L309.38,319.05 L312.22,321.71 L315.06,324.27 L317.90,326.75 L320.74,329.14 L323.58,331.46 L326.43,333.69 L329.27,335.85 L332.11,337.93 L334.95,339.94 L337.79,341.89 L340.63,343.76 L343.48,345.58 L346.32,347.33 L349.16,349.02 L352.00,350.65 L354.84,352.23 L357.69,353.75 L360.53,355.23 L363.37,356.65 L366.21,358.02 L369.05,359.35 L371.89,360.63 L374.74,361.87 L377.58,363.06 L380.42,364.21 L383.26,365.33 L386.10,366.41 L388.94,367.45 L391.79,368.45 L394.63,369.42 L397.47,370.36 L400.31,371.26 L403.15,372.13 L406.00,372.98 L408.84,373.79 L411.68,374.58 L414.52,375.34 L417.36,376.08 L420.20,376.79 L423.05,377.47 L425.89,378.13 L428.73,378.77 L431.57,379.39 L434.41,379.99 L437.25,380.56 L440.10,381.12 L442.94,381.66 L445.78,382.17 L448.62,382.68 L451.46,383.16 L454.31,383.63" fill="none" stroke="#000" stroke-width="1.35"/>
<path d="M283.80,310.61 L286.64,313.47 L289.48,316.24 L292.33,318.92 L295.17,321.50 L298.01,324.00 L300.85,326.42 L303.69,328.76 L306.53,331.02 L309.38,333.20 L312.22,335.31 L315.06,337.36 L317.90,339.33 L320.74,341.24 L323.58,343.09 L326.43,344.87 L329.27,346.59 L332.11,348.26 L334.95,349.87 L337.79,351.43 L340.63,352.94 L343.48,354.40 L346.32,355.81 L349.16,357.17 L352.00,358.49 L354.84,359.76 L357.69,360.99 L360.53,362.18 L363.37,363.33 L366.21,364.44 L369.05,365.52 L371.89,366.56 L374.74,367.56 L377.58,368.54 L380.42,369.48 L383.26,370.38 L386.10,371.26 L388.94,372.11 L391.79,372.93 L394.63,373.73 L397.47,374.49 L400.31,375.24 L403.15,375.95 L406.00,376.65 L408.84,377.32 L411.68,377.96 L414.52,378.59 L417.36,379.20 L420.20,379.78 L423.05,380.35 L425.89,380.90 L428.73,381.43 L431.57,381.94 L434.41,382.43 L437.25,382.91 L440.10,383.37 L442.94,383.82 L445.78,384.25 L448.62,384.67 L451.46,385.08 L454.31,385.47" fill="none" stroke="#000" stroke-width="1.35" stroke-dasharray="5.5 4.2 1.2 4.1" stroke-dashoffset="9.7"/>
<circle cx="284.3" cy="336.1" r="1.15" fill="#111"/>
<circle cx="295.4" cy="312.5" r="1.15" fill="#111"/>
<circle cx="306.9" cy="232.4" r="1.15" fill="#111"/>
<circle cx="318.1" cy="246.7" r="1.15" fill="#111"/>
<circle cx="329.2" cy="304.3" r="1.15" fill="#111"/>
<circle cx="340.3" cy="338.5" r="1.15" fill="#111"/>
<circle cx="352.1" cy="351.5" r="1.15" fill="#111"/>
<circle cx="363.5" cy="362.6" r="1.15" fill="#111"/>
<circle cx="374.7" cy="363.6" r="1.15" fill="#111"/>
<circle cx="385.9" cy="365.5" r="1.15" fill="#111"/>
<circle cx="397.6" cy="370.9" r="1.15" fill="#111"/>
<circle cx="408.8" cy="278.8" r="1.15" fill="#111"/>
<circle cx="420.1" cy="375.0" r="1.15" fill="#111"/>
<circle cx="431.7" cy="380.5" r="1.15" fill="#111"/>
<circle cx="443.0" cy="384.0" r="1.15" fill="#111"/>
<circle cx="454.4" cy="382.7" r="1.15" fill="#111"/>
<circle cx="284.3" cy="346.8" r="1.15" fill="#111"/>
<circle cx="295.4" cy="320.8" r="1.15" fill="#111"/>
<circle cx="306.9" cy="258.4" r="1.15" fill="#111"/>
<circle cx="318.1" cy="271.4" r="1.15" fill="#111"/>
<circle cx="329.2" cy="320.1" r="1.15" fill="#111"/>
<circle cx="340.3" cy="347.7" r="1.15" fill="#111"/>
<circle cx="352.1" cy="358.6" r="1.15" fill="#111"/>
<circle cx="363.5" cy="366.8" r="1.15" fill="#111"/>
<circle cx="374.7" cy="368.5" r="1.15" fill="#111"/>
<circle cx="385.9" cy="368.7" r="1.15" fill="#111"/>
<circle cx="397.6" cy="372.5" r="1.15" fill="#111"/>
<circle cx="408.8" cy="302.9" r="1.15" fill="#111"/>
<circle cx="420.1" cy="378.0" r="1.15" fill="#111"/>
<circle cx="431.7" cy="381.5" r="1.15" fill="#111"/>
<circle cx="443.0" cy="385.7" r="1.15" fill="#111"/>
<circle cx="454.4" cy="387.9" r="1.15" fill="#111"/>
<circle cx="284.3" cy="356.9" r="1.35" fill="#8a8a8a"/><circle cx="284.3" cy="356.9" r="0.5" fill="#555"/>
<circle cx="295.4" cy="327.9" r="1.35" fill="#8a8a8a"/><circle cx="295.4" cy="327.9" r="0.5" fill="#555"/>
<circle cx="306.9" cy="282.9" r="1.35" fill="#8a8a8a"/><circle cx="306.9" cy="282.9" r="0.5" fill="#555"/>
<circle cx="318.1" cy="295.2" r="1.35" fill="#8a8a8a"/><circle cx="318.1" cy="295.2" r="0.5" fill="#555"/>
<circle cx="329.2" cy="334.3" r="1.35" fill="#8a8a8a"/><circle cx="329.2" cy="334.3" r="0.5" fill="#555"/>
<circle cx="340.3" cy="356.2" r="1.35" fill="#8a8a8a"/><circle cx="340.3" cy="356.2" r="0.5" fill="#555"/>
<circle cx="352.1" cy="366.1" r="1.35" fill="#8a8a8a"/><circle cx="352.1" cy="366.1" r="0.5" fill="#555"/>
<circle cx="363.5" cy="371.2" r="1.35" fill="#8a8a8a"/><circle cx="363.5" cy="371.2" r="0.5" fill="#555"/>
<circle cx="374.7" cy="373.3" r="1.35" fill="#8a8a8a"/><circle cx="374.7" cy="373.3" r="0.5" fill="#555"/>
<circle cx="385.9" cy="371.9" r="1.35" fill="#8a8a8a"/><circle cx="385.9" cy="371.9" r="0.5" fill="#555"/>
<circle cx="397.6" cy="376.2" r="1.35" fill="#8a8a8a"/><circle cx="397.6" cy="376.2" r="0.5" fill="#555"/>
<circle cx="408.7" cy="326.7" r="1.35" fill="#8a8a8a"/><circle cx="408.7" cy="326.7" r="0.5" fill="#555"/>
<circle cx="420.1" cy="381.9" r="1.35" fill="#8a8a8a"/><circle cx="420.1" cy="381.9" r="0.5" fill="#555"/>
<circle cx="431.7" cy="384.4" r="1.35" fill="#8a8a8a"/><circle cx="431.7" cy="384.4" r="0.5" fill="#555"/>
<circle cx="443.0" cy="386.0" r="1.35" fill="#8a8a8a"/><circle cx="443.0" cy="386.0" r="0.5" fill="#555"/>
<circle cx="454.4" cy="386.5" r="1.35" fill="#8a8a8a"/><circle cx="454.4" cy="386.5" r="0.5" fill="#555"/>
<path d="M518.80,300.35 L520.22,304.22 L521.64,307.91 L523.06,311.44 L524.47,314.81 L525.89,318.03 L527.31,321.12 L528.73,324.06 L530.15,326.88 L531.57,329.58 L532.98,332.15 L534.40,334.61 L535.82,336.97 L537.24,339.22 L538.66,341.37 L540.08,343.42 L541.49,345.39 L542.91,347.27 L544.33,349.07 L545.75,350.78 L547.17,352.43 L548.59,354.00 L550.00,355.50 L551.42,356.93 L552.84,358.30 L554.26,359.61 L555.68,360.87 L557.10,362.07 L558.51,363.21 L559.93,364.31 L561.35,365.35 L562.77,366.35 L564.19,367.31 L565.61,368.23 L567.02,369.10 L568.44,369.94 L569.86,370.74 L571.28,371.50 L572.70,372.23 L574.12,372.93 L575.53,373.60 L576.95,374.23 L578.37,374.84 L579.79,375.43 L581.21,375.99 L582.63,376.52 L584.05,377.03 L585.46,377.51 L586.88,377.98 L588.30,378.43 L589.72,378.85 L591.14,379.26 L592.56,379.65 L593.97,380.02 L595.39,380.38 L596.81,380.72 L598.23,381.04 L599.65,381.35 L601.07,381.65 L602.48,381.93 L603.90,382.20 L605.32,382.46 L606.74,382.71 L608.16,382.95 L609.58,383.17 L610.99,383.39 L612.41,383.60 L613.83,383.80 L615.25,383.99 L616.67,384.17 L618.09,384.34 L619.50,384.51 L620.92,384.66 L622.34,384.81 L623.76,384.96 L625.18,385.10 L626.60,385.23 L628.01,385.36 L629.43,385.48 L630.85,385.59 L632.27,385.70 L633.69,385.81 L635.11,385.91 L636.53,386.01 L637.94,386.10 L639.36,386.19 L640.78,386.27 L642.20,386.35 L643.62,386.43 L645.04,386.50 L646.45,386.57 L647.87,386.64 L649.29,386.70 L650.71,386.76 L652.13,386.82 L653.55,386.88 L654.96,386.93 L656.38,386.98 L657.80,387.03 L659.22,387.08 L660.64,387.13 L662.06,387.17 L663.47,387.21 L664.89,387.25 L666.31,387.29 L667.73,387.32 L669.15,387.36 L670.57,387.39 L671.98,387.42 L673.40,387.45 L674.25,387.47 L674.82,387.17 L676.24,386.22 L677.66,385.14 L679.08,384.00 L680.49,382.80 L681.91,381.56 L683.33,380.28 L684.75,378.98 L686.17,377.64 L687.59,376.29 L689.00,374.91" fill="none" stroke="#000" stroke-width="1.35" stroke-dasharray="5.6 5.0"/>
<path d="M518.80,375.31 L520.22,374.98 L521.64,374.64 L523.06,374.29 L524.47,373.93 L525.89,373.56 L527.31,373.19 L528.73,372.80 L530.15,372.40 L531.57,371.99 L532.98,371.58 L534.40,371.15 L535.82,370.71 L537.24,370.26 L538.66,369.79 L540.08,369.32 L541.49,368.83 L542.91,368.33 L544.33,367.82 L545.75,367.29 L547.17,366.75 L548.59,366.20 L550.00,365.63 L551.42,365.04 L552.84,364.44 L554.26,363.83 L555.68,363.20 L557.10,362.55 L558.51,361.89 L559.93,361.21 L561.35,360.51 L562.77,359.80 L564.19,359.06 L565.61,358.31 L567.02,357.54 L568.44,356.74 L569.86,355.93 L571.28,355.09 L572.70,354.24 L574.12,353.36 L575.53,352.46 L576.95,351.53 L578.37,350.58 L579.79,349.61 L581.21,348.61 L582.63,347.58 L584.05,346.53 L585.46,345.45 L586.88,344.35 L588.30,343.21 L589.72,342.04 L591.14,340.85 L592.56,339.62 L593.97,338.36 L595.39,337.07 L596.81,335.75 L598.23,334.39 L599.65,338.02 L601.07,341.41 L602.48,344.56 L603.90,347.51 L605.32,350.25 L606.74,352.81 L608.16,355.20 L609.58,357.42 L610.99,359.49 L612.41,361.43 L613.83,363.23 L615.25,364.91 L616.67,366.48 L618.09,367.94 L619.50,369.31 L620.92,370.58 L622.34,371.76 L623.76,372.87 L625.18,373.90 L626.60,374.86 L628.01,375.75 L629.43,376.59 L630.85,377.36 L632.27,378.09 L633.69,378.77 L635.11,379.40 L636.53,379.99 L637.94,380.53 L639.36,381.05 L640.78,381.52 L642.20,381.97 L643.62,382.38 L645.04,382.77 L646.45,383.13 L647.87,383.47 L649.29,383.78 L650.71,384.07 L652.13,384.34 L653.55,384.60 L654.96,384.83 L656.38,385.05 L657.80,385.26 L659.22,385.45 L660.64,385.63 L662.06,385.80 L663.47,385.95 L664.89,386.10 L666.31,386.23 L667.73,386.36 L669.15,386.48 L670.57,386.59 L671.98,386.69 L673.40,386.79 L674.82,386.87 L676.24,386.96 L677.66,387.03 L679.08,387.11 L680.49,387.17 L681.91,387.24 L683.33,387.29 L684.75,387.35 L686.17,387.40 L687.59,387.45 L689.00,387.49" fill="none" stroke="#000" stroke-width="1.35"/>
<path d="M518.80,388.03 L519.93,388.01 L521.07,388.00 L522.20,387.97 L523.34,387.94 L524.47,387.91 L525.61,387.86 L526.74,387.81 L527.88,387.74 L529.01,387.65 L530.15,387.55 L531.28,387.43 L532.42,387.27 L533.55,387.08 L534.69,386.85 L535.82,386.56 L536.96,386.20 L538.09,385.77 L539.22,385.23 L540.36,384.57 L541.49,383.76 L542.63,382.76 L543.76,381.53 L544.90,380.02 L546.03,378.16 L547.17,375.88 L548.30,373.07 L549.44,369.61 L550.57,365.35 L551.71,360.12 L552.84,353.69 L553.98,355.04 L555.11,356.34 L556.25,357.58 L557.38,358.78 L558.51,359.93 L559.65,361.03 L560.78,362.09 L561.92,363.11 L563.05,364.09 L564.19,365.03 L565.32,365.94 L566.46,366.81 L567.59,367.64 L568.73,368.44 L569.86,369.22 L571.00,369.96 L572.13,370.67 L573.27,371.35 L574.40,372.01 L575.53,372.64 L576.67,373.24 L577.80,373.83 L578.94,374.39 L580.07,374.92 L581.21,375.44 L582.34,375.94 L583.48,376.41 L584.61,376.87 L585.75,377.31 L586.88,377.74 L588.02,378.14 L589.15,378.53 L590.29,378.91 L591.42,379.27 L592.56,379.61 L593.69,379.95 L594.82,380.27 L595.96,380.57 L597.09,380.87 L598.23,381.15 L599.36,381.43 L600.50,381.69 L601.63,381.94 L602.77,382.18 L603.90,382.41 L605.04,382.64 L606.17,382.85 L607.31,383.06 L608.44,383.25 L609.58,383.44 L610.71,383.63 L611.85,383.80 L612.98,383.97 L614.11,384.13 L615.25,384.29 L616.38,384.44 L617.52,384.58 L618.65,384.72 L619.79,384.85 L620.92,384.98 L622.06,385.10 L623.19,385.22 L624.33,385.33 L625.46,385.44 L626.60,385.54 L627.73,385.64 L628.87,385.74 L630.00,385.83 L631.14,385.92 L632.27,386.01 L633.40,386.09 L634.54,386.17 L635.67,386.24 L636.81,386.32 L637.94,386.39 L639.08,386.45 L640.21,386.52 L641.35,386.58 L642.48,386.64 L643.62,386.70 L644.75,386.75 L645.89,386.81 L647.02,386.86 L648.16,386.90 L649.29,386.95 L650.43,387.00 L651.56,387.04 L652.69,387.08 L653.83,387.12 L654.96,387.16 L656.10,387.20 L657.23,387.23 L658.37,387.27 L659.50,387.30 L660.64,387.33 L661.77,387.36 L662.91,387.39 L664.04,387.42 L665.18,387.44 L666.31,387.47 L667.45,387.49 L668.58,387.52 L669.72,387.54 L670.85,387.56 L671.98,387.58 L673.12,387.60 L674.25,387.62 L675.39,387.64 L676.52,387.66 L677.66,387.68 L678.79,387.69 L679.93,387.71 L681.06,387.73 L682.20,387.74 L683.33,387.75 L684.47,387.77 L685.60,387.78 L686.74,387.79 L687.87,387.81 L689.00,387.82" fill="none" stroke="#000" stroke-width="1.35" stroke-dasharray="5.5 4.2 1.2 4.1" stroke-dashoffset="9.7"/>
<circle cx="518.8" cy="363.6" r="1.15" fill="#111"/>
<circle cx="530.0" cy="348.0" r="1.15" fill="#111"/>
<circle cx="541.7" cy="378.5" r="1.15" fill="#111"/>
<circle cx="552.6" cy="316.0" r="1.15" fill="#111"/>
<circle cx="564.3" cy="357.6" r="1.15" fill="#111"/>
<circle cx="575.5" cy="345.9" r="1.15" fill="#111"/>
<circle cx="586.4" cy="341.2" r="1.15" fill="#111"/>
<circle cx="598.2" cy="269.7" r="1.15" fill="#111"/>
<circle cx="609.9" cy="308.6" r="1.15" fill="#111"/>
<circle cx="621.1" cy="339.5" r="1.15" fill="#111"/>
<circle cx="632.5" cy="345.2" r="1.15" fill="#111"/>
<circle cx="644.0" cy="388.0" r="1.15" fill="#111"/>
<circle cx="655.2" cy="339.5" r="1.15" fill="#111"/>
<circle cx="666.5" cy="388.0" r="1.15" fill="#111"/>
<circle cx="678.0" cy="388.0" r="1.15" fill="#111"/>
<circle cx="689.3" cy="282.6" r="1.15" fill="#111"/>
<circle cx="518.8" cy="375.3" r="1.15" fill="#111"/>
<circle cx="530.0" cy="368.6" r="1.15" fill="#111"/>
<circle cx="541.7" cy="381.0" r="1.15" fill="#111"/>
<circle cx="552.6" cy="346.7" r="1.15" fill="#111"/>
<circle cx="564.3" cy="360.0" r="1.15" fill="#111"/>
<circle cx="575.5" cy="349.8" r="1.15" fill="#111"/>
<circle cx="586.4" cy="343.3" r="1.15" fill="#111"/>
<circle cx="598.2" cy="299.9" r="1.15" fill="#111"/>
<circle cx="609.9" cy="388.0" r="1.15" fill="#111"/>
<circle cx="621.1" cy="364.8" r="1.15" fill="#111"/>
<circle cx="632.5" cy="388.0" r="1.15" fill="#111"/>
<circle cx="644.0" cy="386.0" r="1.15" fill="#111"/>
<circle cx="655.2" cy="388.0" r="1.15" fill="#111"/>
<circle cx="666.5" cy="387.0" r="1.15" fill="#111"/>
<circle cx="678.0" cy="388.0" r="1.15" fill="#111"/>
<circle cx="689.3" cy="278.4" r="1.15" fill="#111"/>
<circle cx="518.8" cy="388.3" r="1.35" fill="#8a8a8a"/><circle cx="518.8" cy="388.3" r="0.5" fill="#555"/>
<circle cx="530.0" cy="388.3" r="1.35" fill="#8a8a8a"/><circle cx="530.0" cy="388.3" r="0.5" fill="#555"/>
<circle cx="541.7" cy="374.5" r="1.35" fill="#8a8a8a"/><circle cx="541.7" cy="374.5" r="0.5" fill="#555"/>
<circle cx="552.6" cy="376.6" r="1.35" fill="#8a8a8a"/><circle cx="552.6" cy="376.6" r="0.5" fill="#555"/>
<circle cx="564.3" cy="362.0" r="1.35" fill="#8a8a8a"/><circle cx="564.3" cy="362.0" r="0.5" fill="#555"/>
<circle cx="576.1" cy="346.1" r="1.35" fill="#8a8a8a"/><circle cx="576.1" cy="346.1" r="0.5" fill="#555"/>
<circle cx="587.1" cy="341.5" r="1.35" fill="#8a8a8a"/><circle cx="587.1" cy="341.5" r="0.5" fill="#555"/>
<circle cx="598.4" cy="328.5" r="1.35" fill="#8a8a8a"/><circle cx="598.4" cy="328.5" r="0.5" fill="#555"/>
<circle cx="609.9" cy="232.4" r="1.35" fill="#8a8a8a"/><circle cx="609.9" cy="232.4" r="0.5" fill="#555"/>
<circle cx="621.1" cy="388.0" r="1.35" fill="#8a8a8a"/><circle cx="621.1" cy="388.0" r="0.5" fill="#555"/>
<circle cx="632.5" cy="388.0" r="1.35" fill="#8a8a8a"/><circle cx="632.5" cy="388.0" r="0.5" fill="#555"/>
<circle cx="644.0" cy="388.0" r="1.35" fill="#8a8a8a"/><circle cx="644.0" cy="388.0" r="0.5" fill="#555"/>
<circle cx="655.2" cy="388.0" r="1.35" fill="#8a8a8a"/><circle cx="655.2" cy="388.0" r="0.5" fill="#555"/>
<circle cx="666.5" cy="388.0" r="1.35" fill="#8a8a8a"/><circle cx="666.5" cy="388.0" r="0.5" fill="#555"/>
<circle cx="678.0" cy="388.0" r="1.35" fill="#8a8a8a"/><circle cx="678.0" cy="388.0" r="0.5" fill="#555"/>
<circle cx="689.3" cy="274.6" r="1.35" fill="#8a8a8a"/><circle cx="689.3" cy="274.6" r="0.5" fill="#555"/>
</svg>
</body></html>
